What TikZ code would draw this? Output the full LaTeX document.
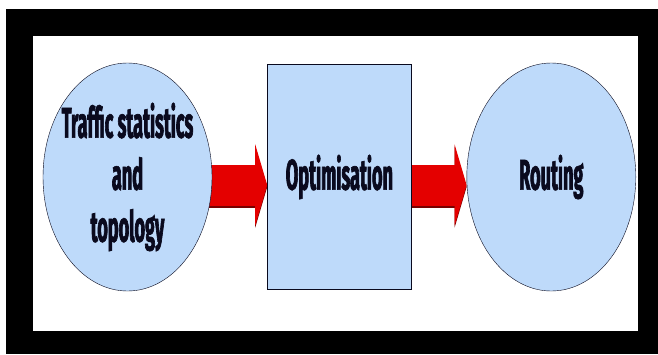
\documentclass[tikz,border=0pt]{standalone}
\usepackage{fontspec}
\usetikzlibrary{positioning,arrows.meta,backgrounds,shapes.geometric}
\newfontfamily\labelfont{Fira Sans}[FakeStretch=0.42,FakeBold=1.5]
\definecolor{paleblue}{RGB}{190,218,250}
\definecolor{arrowred}{RGB}{228,0,0}
\definecolor{arrowdark}{RGB}{120,0,0}
\definecolor{inkblue}{RGB}{10,10,30}

\begin{document}
\begin{tikzpicture}[x=1pt,y=-1pt,
  bubble/.style = {draw=inkblue, ellipse, fill=paleblue, minimum width=169pt, minimum height=228pt, inner sep=-20pt},
  block/.style = {draw=inkblue, rectangle, fill=paleblue, minimum width=144pt, minimum height=225pt, inner sep=0pt},
  words/.style = {font=\labelfont\bfseries\fontsize{43}{52}\selectfont, text=inkblue, align=center},
  fat/.style = {line width=41pt, -{Triangle[length=12pt,width=81pt]}},
  node distance={55pt}]
\useasboundingbox (0,0) rectangle (658,354);
% stages
\node[bubble, words] (stats) at (127.5,177) {Traffic statistics\\and\\topology};
\node[block, words] (opt) [right=of stats] {Optimisation};
\node[bubble, words] (route) [right=of opt] {Routing};
\begin{scope}[on background layer]
% frame
\fill[black] (6,9) rectangle (658,354);
\fill[white] (33,36) rectangle (638,331);
% arrows
\draw[fat, arrowdark] ([xshift=-6pt,yshift=-10pt]stats.east) -- ([yshift=-10pt]opt.west);
\draw[fat, arrowred] ([xshift=-6pt,yshift=-8pt]stats.east) -- ([yshift=-8pt]opt.west);
\draw[fat, arrowdark] ([xshift=-6pt,yshift=-10pt]opt.east) -- ([yshift=-10pt]route.west);
\draw[fat, arrowred] ([xshift=-6pt,yshift=-8pt]opt.east) -- ([yshift=-8pt]route.west);
\end{scope}
\end{tikzpicture}
\end{document}
